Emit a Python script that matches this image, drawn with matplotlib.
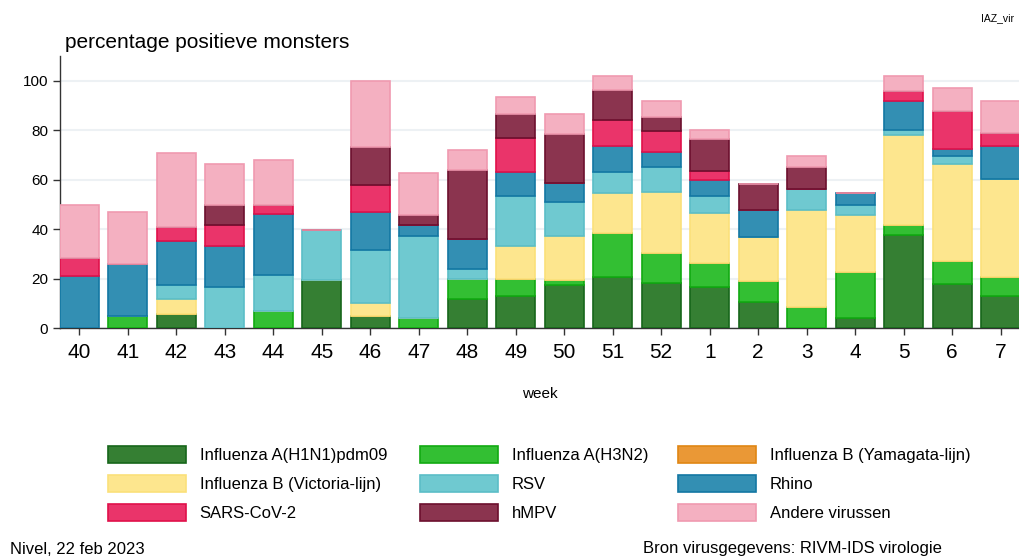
import numpy as np
import matplotlib
matplotlib.use('Agg')
import matplotlib.pyplot as plt

plt.rcParams['font.family'] = ['Liberation Sans', 'DejaVu Sans']

weeks = ['40', '41', '42', '43', '44', '45', '46', '47', '48', '49',
         '50', '51', '52', '1', '2', '3', '4', '5', '6', '7']

series_names = ['Influenza A(H1N1)pdm09', 'Influenza A(H3N2)',
                'Influenza B (Yamagata-lijn)', 'Influenza B (Victoria-lijn)',
                'RSV', 'Rhino', 'SARS-CoV-2', 'hMPV', 'Andere virussen']

# percentages per virus and week (stacked)
h1n1 = [0, 0, 5.5, 0, 0, 19.6, 4.7, 0, 11.6, 13.0,
        17.4, 20.8, 18.1, 16.5, 10.4, 0, 4.2, 37.7, 17.8, 12.8]
h3n2 = [0, 5.0, 0, 0, 6.7, 0, 0, 3.9, 8.1, 6.7,
        1.9, 17.5, 12.1, 9.7, 8.8, 8.4, 18.3, 4.0, 9.1, 7.8]
yamagata = [0] * 20
victoria = [0, 0, 6.2, 0, 0, 0, 5.6, 0, 0, 13.5,
            17.9, 16.1, 24.9, 20.4, 17.6, 39.4, 23.0, 36.3, 39.6, 39.7]
rsv = [0, 0, 5.8, 16.6, 14.6, 20.2, 21.1, 33.5, 4.2, 20.2,
       13.8, 8.8, 10.2, 6.7, 0, 8.5, 4.4, 2.0, 3.0, 0]
rhino = [21.0, 20.8, 17.6, 16.6, 25.0, 0, 15.7, 4.3, 11.9, 9.6,
         7.6, 10.3, 6.0, 6.6, 10.8, 0, 4.5, 11.9, 3.0, 13.2]
sars = [7.2, 0, 5.9, 8.4, 3.5, 0, 10.8, 0, 0, 13.7,
        0, 10.6, 8.3, 3.4, 0, 0, 0, 3.8, 15.1, 5.2]
hmpv = [0, 0, 0, 8.1, 0, 0, 15.5, 3.8, 27.9, 9.7,
        19.8, 12.3, 5.7, 13.2, 10.8, 8.7, 0, 0, 0, 0]
andere = [21.7, 21.3, 29.6, 16.8, 18.1, 0, 26.6, 17.0, 8.2, 6.9,
          8.1, 5.5, 6.5, 3.5, 0, 4.5, 0, 6.2, 9.3, 13.3]

fill_colors = ['#357F33', '#33BF33', '#EA9836', '#FDE68E', '#6FC9D0',
               '#338FB3', '#EA346A', '#8B344F', '#F4B0C1']
edge_colors = ['#16661A', '#12AA12', '#E08614', '#FBE07A', '#5BBEC7',
               '#1377A3', '#E0104A', '#6C0F2E', '#F09AB0']

data = [h1n1, h3n2, yamagata, victoria, rsv, rhino, sars, hmpv, andere]

fig = plt.figure(figsize=(10.2, 5.59), dpi=100)
ax = fig.add_axes([60 / 1020, 1 - 328 / 559, 960 / 1020, 272 / 559])

x = np.arange(len(weeks))
bottom = np.zeros(len(weeks))
handles = []
for name, vals, fc, ec in zip(series_names, data, fill_colors, edge_colors):
    vals = np.array(vals, dtype=float)
    bars = ax.bar(x, vals, width=0.8, bottom=bottom, color=fc, edgecolor=ec,
                  linewidth=1.2, label=name, zorder=3)
    handles.append(bars)
    bottom += vals

ax.set_xlim(-0.4, len(weeks) - 0.6)
ax.set_ylim(0, 110)
ax.set_yticks([0, 20, 40, 60, 80, 100])
ax.yaxis.grid(True, color='#EDF1F4', linewidth=1.5, zorder=0)
ax.set_axisbelow(True)
ax.set_xticks(x)
ax.set_xticklabels(weeks, fontsize=15)
ax.tick_params(axis='x', length=5, width=1, color='#333333', pad=6)
ax.tick_params(axis='y', length=5, width=1, color='#333333', labelsize=11)
for side in ('top', 'right'):
    ax.spines[side].set_visible(False)
for side in ('left', 'bottom'):
    ax.spines[side].set_color('#333333')
    ax.spines[side].set_linewidth(1)

ax.set_xlabel('week', fontsize=11, labelpad=18)

fig.text(65 / 1020, 1 - 42 / 559, 'percentage positieve monsters',
         fontsize=15, va='center', ha='left')
fig.text(1014 / 1020, 1 - 18 / 559, 'IAZ_vir', fontsize=7.5,
         va='center', ha='right')

# legend in three columns
col_x = [93 / 1020, 405 / 1020, 663 / 1020]
for c in range(3):
    idx = [c, c + 3, c + 6]
    leg = fig.legend([handles[i] for i in idx], [series_names[i] for i in idx],
                     loc='upper left', bbox_to_anchor=(col_x[c], 1 - 431 / 559),
                     frameon=False, fontsize=12, handlelength=4.7,
                     handleheight=1.2, labelspacing=0.72, handletextpad=0.8)

fig.text(10 / 1020, 1 - 549 / 559, 'Nivel, 22 feb 2023', fontsize=12,
         va='center', ha='left')
fig.text(942 / 1020, 1 - 549 / 559, 'Bron virusgegevens: RIVM-IDS virologie',
         fontsize=12, va='center', ha='right')

fig.savefig('out.png', dpi=100)
